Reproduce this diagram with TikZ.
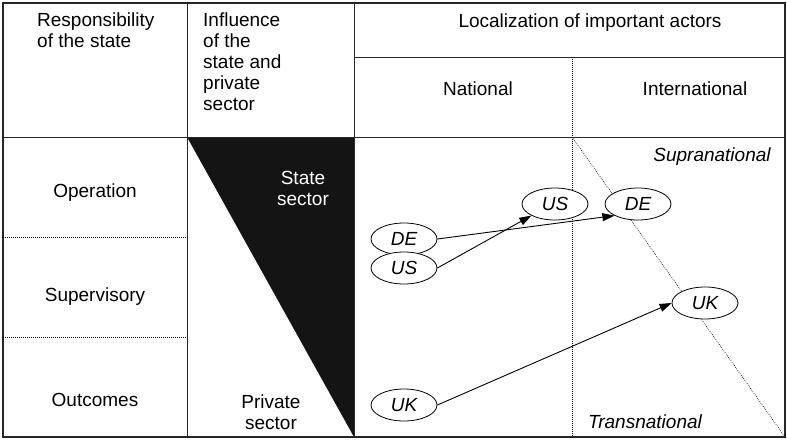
\documentclass[tikz,border=0pt]{standalone}
\usepackage{fontspec}
\setmainfont{Liberation Sans}
\usetikzlibrary{shapes.geometric,arrows.meta}
\tikzset{
  actor/.style={ellipse, draw, fill=white, line width=0.8pt, minimum width=66pt, minimum height=32pt, inner sep=0pt, font=\fontsize{19pt}{21pt}\selectfont\itshape},
  flow/.style={-{Triangle[length=12pt,width=8pt]}, line width=0.9pt},
  sep/.style={dash pattern=on 0.8pt off 1.2pt, line width=0.6pt},
  rule/.style={line width=1pt, black!85}
}
\begin{document}
\begin{tikzpicture}[x=1pt,y=-1pt,font=\fontsize{19pt}{21pt}\selectfont]
  \useasboundingbox (0,0) rectangle (787,440);
  % black wedge
  \fill[black!92] (187,137) -- (354,137) -- (354,437) -- cycle;
  % table frame
  \draw[rule, line width=1.4pt] (3,3) rectangle (785,437);
  \draw[rule] (187,3) -- (187,437) (354,3) -- (354,437) (354,57) -- (785,57) (3,137) -- (785,137);
  \draw[sep] (3,237) -- (187,237) (3,337) -- (187,337);
  \draw[sep] (572,57) -- (572,437);
  \draw[sep] (572,137) -- (785,437);

  \node[anchor=north west, align=left, inner sep=0pt] (resp) at (37,13) {Responsibility\\of the state};
  \node[anchor=north west, align=left, inner sep=0pt] (infl) at (203,13) {Influence\\of the\\state and\\private\\sector};
  \node[anchor=base] (loc) at (590,27) {Localization of important actors};
  \node[anchor=base] (nat) at (478,95) {National};
  \node[anchor=base] (intl) at (695,95) {International};

  \node (oper) at (95,193) {Operation};
  \node (superv) at (95,297) {Supervisory};
  \node (outc) at (95,400) {Outcomes};
  \node[text=white, align=center] (state) at (303,188) {State\\sector};
  \node[align=center] (private) at (271,412) {Private\\sector};
  \node[font=\fontsize{19pt}{21pt}\selectfont\itshape] (supra) at (712,157) {Supranational};
  \node[font=\fontsize{19pt}{21pt}\selectfont\itshape] (trans) at (645,422) {Transnational};

  \node[actor] (deN) at (404,239) {DE};
  \node[actor] (usN) at (404,268) {US};
  \node[actor] (ukN) at (404,405) {UK};
  \node[actor] (usI) at (555,204) {US};
  \node[actor] (deI) at (638,204) {DE};
  \node[actor] (ukI) at (705,303) {UK};

  \draw[flow] (deN.east) -- (deI.south west);
  \draw[flow] (usN.east) -- (usI.south west);
  \draw[flow] (ukN.east) -- (ukI.west);
\end{tikzpicture}
\end{document}
